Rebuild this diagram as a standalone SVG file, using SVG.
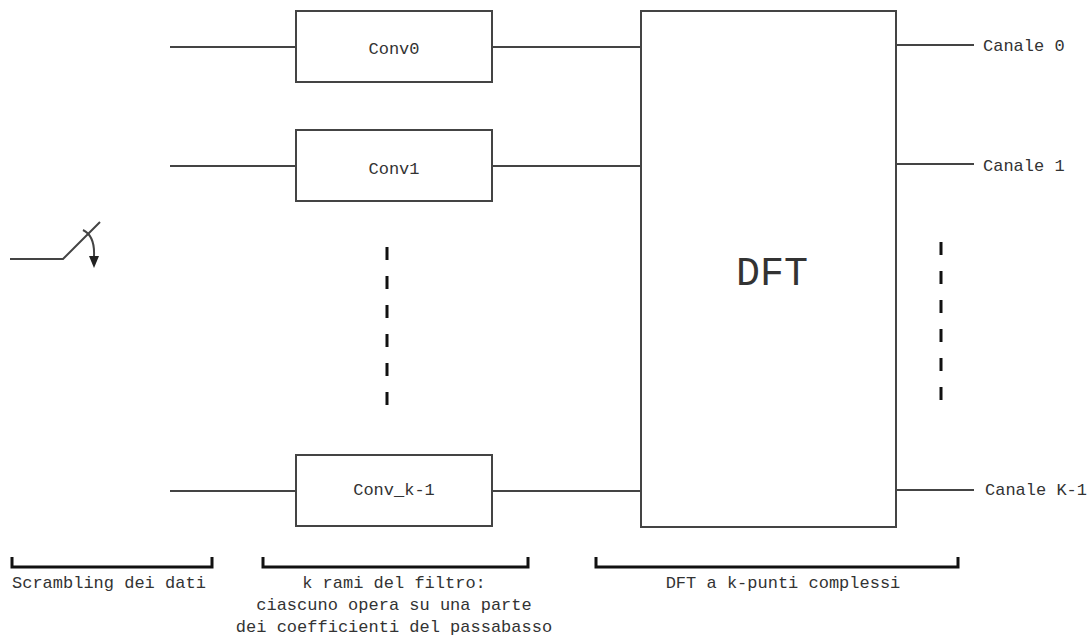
<svg xmlns="http://www.w3.org/2000/svg" width="1091" height="638" viewBox="0 0 1091 638">
<style>
.box{fill:#fff;stroke:#444;stroke-width:2}
.ln{stroke:#444;stroke-width:2;fill:none}
.br{stroke:#111;stroke-width:3;fill:none}
.dash{stroke:#111;stroke-width:3;stroke-dasharray:13 16;fill:none}
.t{font-family:"Liberation Mono","Courier New",monospace;font-size:17px;fill:#333}
.big{font-family:"Liberation Mono","Courier New",monospace;font-size:40px;fill:#333}
</style>
<rect width="1091" height="638" fill="#fff"/>
<g id="connectors">
<line class="ln" x1="170" y1="47" x2="296" y2="47"/>
<line class="ln" x1="170" y1="166" x2="296" y2="166"/>
<line class="ln" x1="170" y1="491" x2="296" y2="491"/>
<line class="ln" x1="492" y1="47" x2="641" y2="47"/>
<line class="ln" x1="492" y1="166" x2="641" y2="166"/>
<line class="ln" x1="492" y1="491" x2="641" y2="491"/>
<line class="ln" x1="896" y1="45" x2="974" y2="45"/>
<line class="ln" x1="896" y1="164" x2="974" y2="164"/>
<line class="ln" x1="896" y1="490" x2="974" y2="490"/>
<line class="dash" x1="387" y1="247" x2="387" y2="405"/>
<line class="dash" x1="941" y1="242" x2="941" y2="400"/>
</g>
<g id="switch">
<polyline class="ln" points="10,259 63,259 100,222"/>
<path class="ln" d="M83,230 Q95,236 94,256"/>
<polygon points="89,256 99,256 94,268" fill="#222"/>
</g>
<g id="conv0">
<rect class="box" x="296" y="11" width="196" height="71"/>
<text class="t" x="394" y="54" text-anchor="middle">Conv0</text>
</g>
<g id="conv1">
<rect class="box" x="296" y="130" width="196" height="71"/>
<text class="t" x="394" y="174" text-anchor="middle">Conv1</text>
</g>
<g id="convk1">
<rect class="box" x="296" y="455" width="196" height="71"/>
<text class="t" x="394" y="495" text-anchor="middle">Conv_k-1</text>
</g>
<g id="dft">
<rect class="box" x="641" y="11" width="255" height="516"/>
<text class="big" x="772" y="285" text-anchor="middle">DFT</text>
</g>
<g id="outputs">
<text class="t" x="983" y="51">Canale 0</text>
<text class="t" x="983" y="171">Canale 1</text>
<text class="t" x="985" y="495">Canale K-1</text>
</g>
<g id="bracket-scrambling">
<polyline class="br" points="12,557 12,567 212,567 212,557"/>
<text class="t" x="12" y="588">Scrambling dei dati</text>
</g>
<g id="bracket-rami">
<polyline class="br" points="263,557 263,567 528,567 528,557"/>
<text class="t" x="394" y="588" text-anchor="middle">k rami del filtro:</text>
<text class="t" x="394" y="610" text-anchor="middle">ciascuno opera su una parte</text>
<text class="t" x="394" y="632" text-anchor="middle">dei coefficienti del passabasso</text>
</g>
<g id="bracket-dft">
<polyline class="br" points="596,557 596,567 958,567 958,557"/>
<text class="t" x="783" y="588" text-anchor="middle">DFT a k-punti complessi</text>
</g>
</svg>
